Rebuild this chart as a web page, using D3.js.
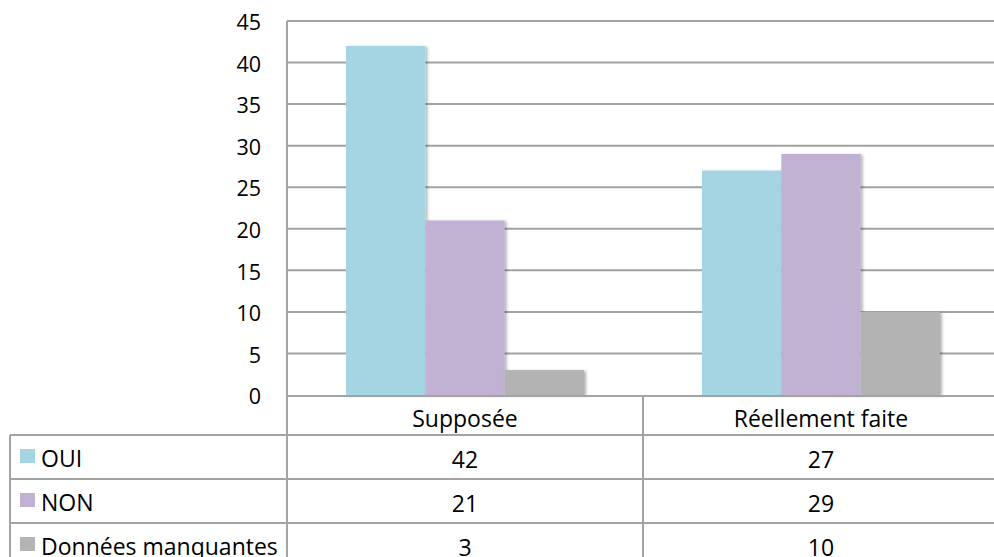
<!DOCTYPE html>
<html><head><meta charset="utf-8">
<script src="https://cdn.jsdelivr.net/npm/d3@7"></script>
<style>html,body{margin:0;padding:0;background:#fff;overflow:hidden}text{font-family:"Open Sans",sans-serif;fill:#000}</style>
</head><body>
<svg id="c" width="994" height="557"></svg>
<script>
const categories = ["Supposée", "Réellement faite"];
const seriesNames = ["OUI", "NON", "Données manquantes"];
const ouiValues = [42, 27];
const nonValues = [21, 29];
const manqValues = [3, 10];
const seriesColors = ["#a5d5e2", "#c1b2d4", "#b3b3b3"];
const yTicks = [0, 5, 10, 15, 20, 25, 30, 35, 40, 45];

(function(){
const seriesValues = [ouiValues, nonValues, manqValues];
const svg = d3.select("#c");
const W = 994, H = 557;
const pLeft = 287, pRight = 999, pTop = 21, pBottom = 395;
const fsAxis = 21.5, fsTab = 23;
const FF = '"Open Sans", sans-serif';

const defs = svg.append("defs");
const f = defs.append("filter").attr("id","sh").attr("x","-20%").attr("y","-20%").attr("width","150%").attr("height","150%");
f.append("feDropShadow").attr("dx",2).attr("dy",1).attr("stdDeviation",1.6).attr("flood-color","#000").attr("flood-opacity",0.3);

const y = d3.scaleLinear().domain([0,45]).range([pBottom, pTop]);
const x = d3.scaleBand().domain(categories).range([pLeft, pRight]).paddingInner(118/356).paddingOuter(59/356);
const xs = d3.scaleBand().domain(seriesNames).range([0, x.bandwidth()]);

const lineCol = "#a3a3a3";
svg.append("g").selectAll("line").data(yTicks.filter(t=>t>0)).join("line")
  .attr("x1", pLeft).attr("x2", W).attr("y1", d=>y(d)).attr("y2", d=>y(d))
  .attr("stroke", lineCol).attr("stroke-width", 2);

const yAxis = d3.axisLeft(y).tickValues(yTicks).tickSize(0).tickPadding(26);
const ga = svg.append("g").attr("transform", `translate(${pLeft},3)`).call(yAxis);
ga.select(".domain").remove();
ga.selectAll("text").attr("font-size", fsAxis).attr("font-family", FF).attr("fill","#000").attr("dy", null).attr("dominant-baseline","middle");

const g = svg.append("g");
categories.forEach((c, ci) => {
  seriesNames.forEach((s, si) => {
    g.append("rect")
      .attr("x", x(c) + xs(s)).attr("width", xs.bandwidth())
      .attr("y", y(seriesValues[si][ci])).attr("height", y(0) - y(seriesValues[si][ci]))
      .attr("fill", seriesColors[si]).attr("filter","url(#sh)");
  });
});

const rowY = [435, 479, 523, 567];
const sepX = x(categories[0]) + x.step() - x.step()*x.paddingInner()/2;
svg.append("line").attr("x1", pLeft).attr("x2", W).attr("y1", pBottom+1).attr("y2", pBottom+1).attr("stroke", lineCol).attr("stroke-width", 2);
svg.append("line").attr("x1", pLeft).attr("x2", pLeft).attr("y1", pTop).attr("y2", H).attr("stroke", lineCol).attr("stroke-width", 2);
svg.append("line").attr("x1", sepX).attr("x2", sepX).attr("y1", pBottom+1).attr("y2", H).attr("stroke", lineCol).attr("stroke-width", 2);
svg.append("line").attr("x1", 10).attr("x2", 10).attr("y1", rowY[0]).attr("y2", H).attr("stroke", lineCol).attr("stroke-width", 2);
rowY.slice(0,3).forEach(ry => {
  svg.append("line").attr("x1", 10).attr("x2", W).attr("y1", ry).attr("y2", ry).attr("stroke", lineCol).attr("stroke-width", 2);
});

categories.forEach(c => {
  svg.append("text").attr("x", x(c) + x.bandwidth()/2).attr("y", pBottom + 31.5)
    .attr("text-anchor","middle").attr("font-size", fsTab).text(c);
});
seriesNames.forEach((s, si) => {
  const base = rowY[si] + 31.5;
  svg.append("rect").attr("x", 20).attr("y", rowY[si] + 14).attr("width", 15).attr("height", 14).attr("fill", seriesColors[si]);
  svg.append("text").attr("x", 41).attr("y", base).attr("font-size", fsTab).text(s);
  categories.forEach((c, ci) => {
    svg.append("text").attr("x", x(c) + x.bandwidth()/2).attr("y", base + 1)
      .attr("text-anchor","middle").attr("font-size", fsTab).text(seriesValues[si][ci]);
  });
});
})();
</script>
</body></html>
